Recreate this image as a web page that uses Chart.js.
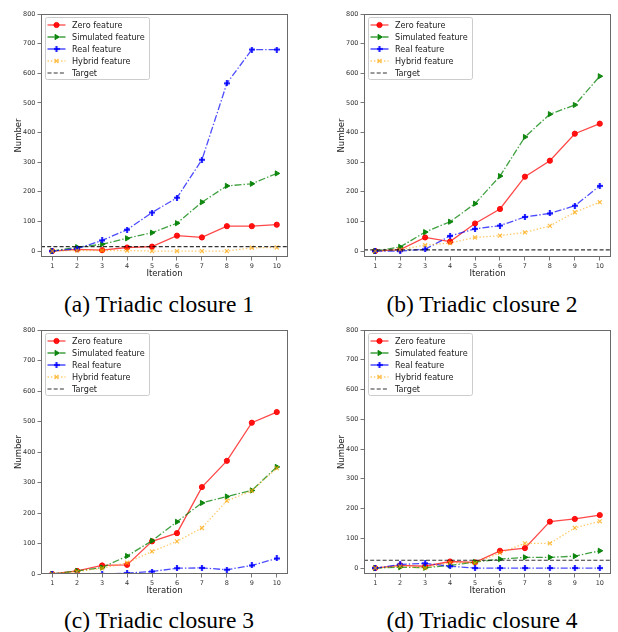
<!DOCTYPE html>
<html>
<head>
<meta charset="utf-8">
<script src="https://cdn.jsdelivr.net/npm/chart.js"></script>
<style>
    body { margin: 0; background: #fff; }
    #figure { position: relative; width: 618px; height: 632px; overflow: hidden; }
    canvas { position: absolute; }
    .caption {
        position: absolute;
        width: 300px;
        text-align: center;
        font-family: "Liberation Serif", "Times New Roman", serif;
        font-size: 23.5px;
        line-height: 1;
        color: #000;
        white-space: nowrap;
    }
</style>
</head>
<body>
<div id="figure"></div>
<script>
// ---- data ----
const iterations = [1, 2, 3, 4, 5, 6, 7, 8, 9, 10];
const yTicks = [0, 100, 200, 300, 400, 500, 600, 700, 800];
const seriesNames = ["Zero feature", "Simulated feature", "Real feature", "Hybrid feature", "Target"];
const captions = ["(a) Triadic closure 1", "(b) Triadic closure 2", "(c) Triadic closure 3", "(d) Triadic closure 4"];

const zeroFeature1 = [0, 6, 3, 12, 15, 52, 46, 84, 84, 89];
const simulatedFeature1 = [0, 13, 23, 43, 62, 94, 165, 220, 227, 262];
const realFeature1 = [0, 8, 36, 72, 130, 180, 308, 566, 680, 680];
const hybridFeature1 = [0, 2, 2, 2, 0, 0, 0, 0, 11, 12];

const zeroFeature2 = [0, 5, 46, 32, 93, 142, 251, 305, 396, 430];
const simulatedFeature2 = [0, 14, 64, 99, 160, 253, 385, 462, 493, 590];
const realFeature2 = [0, 0, 6, 51, 75, 86, 115, 127, 153, 220];
const hybridFeature2 = [0, 5, 20, 27, 46, 52, 63, 85, 131, 165];

const zeroFeature3 = [0, 10, 28, 30, 107, 134, 285, 371, 496, 531];
const simulatedFeature3 = [0, 10, 21, 59, 109, 171, 233, 254, 274, 351];
const realFeature3 = [0, 0, 0, 3, 8, 19, 20, 14, 28, 51];
const hybridFeature3 = [0, 8, 19, 37, 74, 107, 151, 240, 273, 347];

const zeroFeature4 = [0, 9, 6, 22, 19, 58, 67, 156, 165, 178];
const simulatedFeature4 = [0, 3, 1, 9, 20, 30, 36, 36, 40, 58];
const realFeature4 = [0, 12, 16, 6, 0, 0, 0, 0, 0, 0];
const hybridFeature4 = [0, 6, 0, 18, 17, 51, 83, 83, 135, 157];

const targets = [15, 4, 0, 26];
const xRange = [0.55, 10.45];
const yMins = [-20, -20, 0, -20];
const yMax = 800;

// ---- helpers ----
function makePlus(color, size) {
    const c = document.createElement("canvas");
    c.width = size;
    c.height = size;
    const g = c.getContext("2d");
    const t = size * 0.36;
    g.fillStyle = color;
    g.fillRect(0, (size - t) / 2, size, t);
    g.fillRect((size - t) / 2, 0, t, size);
    return c;
}

function toPoints(values) {
    return iterations.map((x, i) => ({ x: x, y: values[i] }));
}

const framePlugin = {
    id: "frame",
    afterDatasetsDraw(chart) {
        const a = chart.chartArea;
        const ctx = chart.ctx;
        ctx.save();
        ctx.strokeStyle = "#6a6a6a";
        ctx.lineWidth = 1;
        ctx.strokeRect(Math.round(a.left) + 0.5, Math.round(a.top) + 0.5,
            Math.round(a.right - a.left) - 1, Math.round(a.bottom - a.top) - 1);
        ctx.restore();
    }
};

const insideLegend = {
    id: "insideLegend",
    afterDraw(chart) {
        const ctx = chart.ctx;
        const a = chart.chartArea;
        const x0 = Math.round(a.left) + 4.5;
        const y0 = Math.round(a.top) + 3.5;
        ctx.save();
        ctx.fillStyle = "rgba(255,255,255,0.85)";
        ctx.strokeStyle = "#cccccc";
        ctx.lineWidth = 1;
        ctx.beginPath();
        ctx.roundRect(x0, y0, 104, 62, 2);
        ctx.fill();
        ctx.stroke();

        chart.data.datasets.forEach((ds, i) => {
            const y = y0 + 7.5 + i * 12;
            ctx.strokeStyle = ds.borderColor;
            ctx.lineWidth = ds.borderWidth;
            ctx.setLineDash(ds.borderDash || []);
            ctx.beginPath();
            ctx.moveTo(x0 + 2, y);
            ctx.lineTo(x0 + 20, y);
            ctx.stroke();
            ctx.setLineDash([]);
            if (ds.pointRadius > 0 && Chart.helpers && Chart.helpers.drawPoint) {
                ctx.fillStyle = ds.pointBackgroundColor;
                ctx.strokeStyle = ds.pointBorderColor;
                ctx.lineWidth = ds.pointBorderWidth;
                Chart.helpers.drawPoint(ctx, {
                    pointStyle: ds.pointStyle,
                    rotation: ds.pointRotation || 0,
                    radius: ds.pointRadius,
                    borderWidth: ds.pointBorderWidth
                }, x0 + 11, y);
            }
            ctx.fillStyle = "#222";
            ctx.font = '8.1px "DejaVu Sans"';
            ctx.textBaseline = "middle";
            ctx.fillText(ds.label, x0 + 26.5, y + 0.5);
        });
        ctx.restore();
    }
};

const plusMarker = makePlus("rgba(0,0,255,0.85)", 6);

function buildDatasets(zero, simulated, real, hybrid, target) {
    return [
        {
            label: seriesNames[0],
            data: toPoints(zero),
            borderColor: "rgba(255,0,0,0.72)",
            borderWidth: 1.3,
            pointStyle: "circle",
            pointRadius: 2.6,
            pointBackgroundColor: "rgba(255,0,0,0.9)",
            pointBorderColor: "rgba(255,0,0,0.9)",
            pointBorderWidth: 1,
            order: 5
        },
        {
            label: seriesNames[1],
            data: toPoints(simulated),
            borderColor: "rgba(0,128,0,0.75)",
            borderWidth: 1.3,
            borderDash: [7, 2, 1.4, 2],
            pointStyle: "triangle",
            pointRotation: 90,
            pointRadius: 3,
            pointBackgroundColor: "rgba(0,128,0,0.9)",
            pointBorderColor: "rgba(0,128,0,0.9)",
            pointBorderWidth: 1,
            order: 4
        },
        {
            label: seriesNames[2],
            data: toPoints(real),
            borderColor: "rgba(0,0,255,0.7)",
            borderWidth: 1.3,
            borderDash: [7, 2, 1.4, 2],
            pointStyle: plusMarker,
            pointRadius: 3,
            pointBackgroundColor: "rgba(0,0,255,0.85)",
            pointBorderColor: "rgba(0,0,255,0.85)",
            pointBorderWidth: 1,
            order: 3
        },
        {
            label: seriesNames[3],
            data: toPoints(hybrid),
            borderColor: "rgba(255,165,0,0.6)",
            borderWidth: 1.3,
            borderDash: [1.4, 2],
            pointStyle: "crossRot",
            pointRadius: 2.8,
            pointBackgroundColor: "rgba(255,165,0,0.7)",
            pointBorderColor: "rgba(255,165,0,0.7)",
            pointBorderWidth: 1.3,
            order: 2
        },
        {
            label: seriesNames[4],
            data: [{ x: xRange[0], y: target }, { x: xRange[1], y: target }],
            borderColor: "rgba(0,0,0,0.8)",
            borderWidth: 1.1,
            borderDash: [4, 2.2],
            pointRadius: 0,
            order: 1
        }
    ];
}

const panels = [
    { left: 0, top: 0, pad: { left: 10, top: 14, right: 21, bottom: 10 }, xHeight: 23, series: [zeroFeature1, simulatedFeature1, realFeature1, hybridFeature1] },
    { left: 309, top: 0, pad: { left: 24, top: 14, right: 7, bottom: 10 }, xHeight: 23, series: [zeroFeature2, simulatedFeature2, realFeature2, hybridFeature2] },
    { left: 0, top: 316, pad: { left: 10, top: 14, right: 21, bottom: 9 }, xHeight: 23, series: [zeroFeature3, simulatedFeature3, realFeature3, hybridFeature3] },
    { left: 309, top: 316, pad: { left: 24, top: 14, right: 7, bottom: 9 }, xHeight: 23, series: [zeroFeature4, simulatedFeature4, realFeature4, hybridFeature4] }
];

const figure = document.getElementById("figure");
const tickFont = { family: "DejaVu Sans", size: 6.5 };
const titleFont = { family: "DejaVu Sans", size: 8.5 };

panels.forEach((p, i) => {
    const canvas = document.createElement("canvas");
    canvas.width = 309;
    canvas.height = 290;
    canvas.style.left = p.left + "px";
    canvas.style.top = p.top + "px";
    figure.appendChild(canvas);

    new Chart(canvas, {
        type: "line",
        data: {
            datasets: buildDatasets(p.series[0], p.series[1], p.series[2], p.series[3], targets[i])
        },
        options: {
            responsive: false,
            animation: false,
            devicePixelRatio: 1,
            layout: { padding: p.pad },
            elements: { line: { tension: 0 } },
            plugins: {
                legend: { display: false },
                tooltip: { enabled: false }
            },
            scales: {
                x: {
                    type: "linear",
                    min: xRange[0],
                    max: xRange[1],
                    afterBuildTicks: axis => { axis.ticks = iterations.map(v => ({ value: v })); },
                    afterFit: scale => { scale.height = p.xHeight; },
                    grid: { drawOnChartArea: false, drawTicks: true, tickLength: 3.5, color: "#555", tickWidth: 0.8 },
                    border: { display: false },
                    ticks: { font: tickFont, color: "#333", padding: 1.5, maxRotation: 0, autoSkip: false },
                    title: { display: true, text: "Iteration", font: titleFont, color: "#222", padding: { top: 0, bottom: 1 } }
                },
                y: {
                    type: "linear",
                    min: yMins[i],
                    max: yMax,
                    afterBuildTicks: axis => { axis.ticks = yTicks.map(v => ({ value: v })); },
                    afterFit: scale => { scale.width = 31; },
                    grid: { drawOnChartArea: false, drawTicks: true, tickLength: 3.5, color: "#555", tickWidth: 0.8 },
                    border: { display: false },
                    ticks: { font: tickFont, color: "#333", padding: 2 },
                    title: { display: true, text: "Number", font: titleFont, color: "#222", padding: { top: 4, bottom: 0 } }
                }
            }
        },
        plugins: [framePlugin, insideLegend]
    });

    const cap = document.createElement("div");
    cap.className = "caption";
    cap.textContent = captions[i];
    cap.style.left = (i % 2 === 0 ? 159 - 150 : 482 - 150) + "px";
    cap.style.top = (i < 2 ? 293 : 609) + "px";
    figure.appendChild(cap);
});
</script>
</body>
</html>
